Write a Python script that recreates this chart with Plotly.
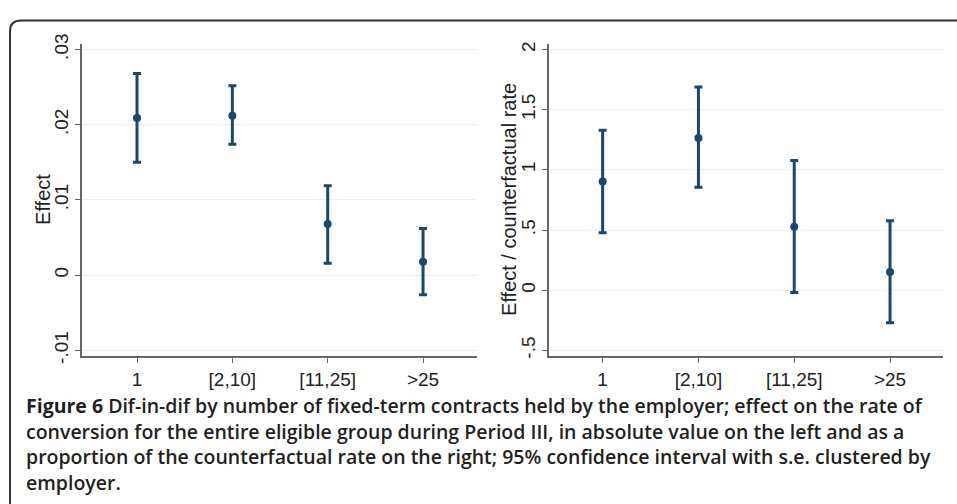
import plotly.graph_objects as go

W, H = 957, 504

categories = ["1", "[2,10]", "[11,25]", ">25"]

effect = [0.0209, 0.0212, 0.0068, 0.0018]
effect_lo = [0.0150, 0.0174, 0.0016, -0.0026]
effect_hi = [0.0268, 0.0252, 0.0119, 0.0062]

ratio = [0.904, 1.265, 0.527, 0.152]
ratio_lo = [0.478, 0.856, -0.019, -0.270]
ratio_hi = [1.329, 1.688, 1.078, 0.578]

left_ticks = [-0.01, 0, 0.01, 0.02, 0.03]
left_ticktext = ["-.01", "0", ".01", ".02", ".03"]
right_ticks = [-0.5, 0, 0.5, 1, 1.5, 2]
right_ticktext = ["-.5", "0", ".5", "1", "1.5", "2"]

caption_lines = [
    "<b>Figure 6</b> Dif-in-dif by number of fixed-term contracts held by the employer; effect on the rate of",
    "conversion for the entire eligible group during Period III, in absolute value on the left and as a",
    "proportion of the counterfactual rate on the right; 95% confidence interval with s.e. clustered by",
    "employer.",
]

NAVY = "#1a476f"


def px(x):
    return x / W


def py(y):
    return 1 - y / H


fig = go.Figure()


def add_panel(vals, lo, hi, xa, ya):
    fig.add_trace(go.Scatter(
        x=categories, y=vals, mode="markers",
        marker=dict(color=NAVY, size=8),
        error_y=dict(type="data", symmetric=False,
                     array=[h - v for h, v in zip(hi, vals)],
                     arrayminus=[v - l for v, l in zip(vals, lo)],
                     color=NAVY, thickness=3, width=4),
        xaxis=xa, yaxis=ya, showlegend=False, hoverinfo="skip"))


add_panel(effect, effect_lo, effect_hi, "x", "y")
add_panel(ratio, ratio_lo, ratio_hi, "x2", "y2")

ydom = [py(359), py(35)]
tickfont = dict(family="Liberation Sans, Arial, sans-serif", size=19, color="#222222")
common_x = dict(type="category", showline=True, linecolor="#666666", linewidth=1.5,
                ticks="outside", ticklen=5, tickcolor="#666666", tickwidth=1,
                showgrid=False, zeroline=False, tickfont=tickfont)
common_y = dict(showline=True, linecolor="#666666", linewidth=1.5,
                ticks="outside", ticklen=5, tickcolor="#666666", tickwidth=1,
                showgrid=True, gridcolor="#e8f0f2", gridwidth=1, zeroline=False,
                tickangle=-90, tickfont=tickfont)

fig.update_layout(
    width=W, height=H,
    margin=dict(l=0, r=0, t=0, b=0),
    paper_bgcolor="white", plot_bgcolor="white",
    xaxis=dict(domain=[px(82), px(477)], range=[-0.577, 3.566], anchor="y", **common_x),
    yaxis=dict(domain=ydom, range=[-0.01077, 0.03077], anchor="x",
               tickvals=left_ticks, ticktext=left_ticktext, **common_y),
    xaxis2=dict(domain=[px(549), px(943)], range=[-0.56, 3.553], anchor="y2", **common_x),
    yaxis2=dict(domain=ydom, range=[-0.548, 2.048], anchor="x2",
                tickvals=right_ticks, ticktext=right_ticktext, **common_y),
)

titlefont = dict(family="Liberation Sans, Arial, sans-serif", size=20, color="#222222")
fig.add_annotation(text="Effect", x=px(43), y=py(197), xref="paper", yref="paper",
                   textangle=-90, showarrow=False, font=titlefont,
                   xanchor="center", yanchor="middle")
fig.add_annotation(text="Effect / counterfactual rate", x=px(509), y=py(197),
                   xref="paper", yref="paper", textangle=-90, showarrow=False,
                   font=titlefont, xanchor="center", yanchor="middle")

capfont = dict(family="Open Sans, sans-serif", size=19.5, color="#231f20", weight=600)
cap_y = [410, 437, 463, 490]
for line, yy in zip(caption_lines, cap_y):
    fig.add_annotation(text=line, x=px(24), y=py(yy), xref="paper", yref="paper",
                       showarrow=False, font=capfont, xanchor="left", yanchor="middle")

# rounded frame (top-left corner)
path = (f"M {px(970)},{py(11)} L {px(21)},{py(11)} "
        f"Q {px(10)},{py(11)} {px(10)},{py(22)} L {px(10)},{py(515)}")
fig.add_shape(type="path", path=path, xref="paper", yref="paper",
              line=dict(color="#333333", width=2))

fig.write_html(
    "out.html",
    config={"displayModeBar": False},
    post_script="document.body.style.margin='0';document.body.style.padding='0';"
                "document.documentElement.style.overflow='hidden';",
)
